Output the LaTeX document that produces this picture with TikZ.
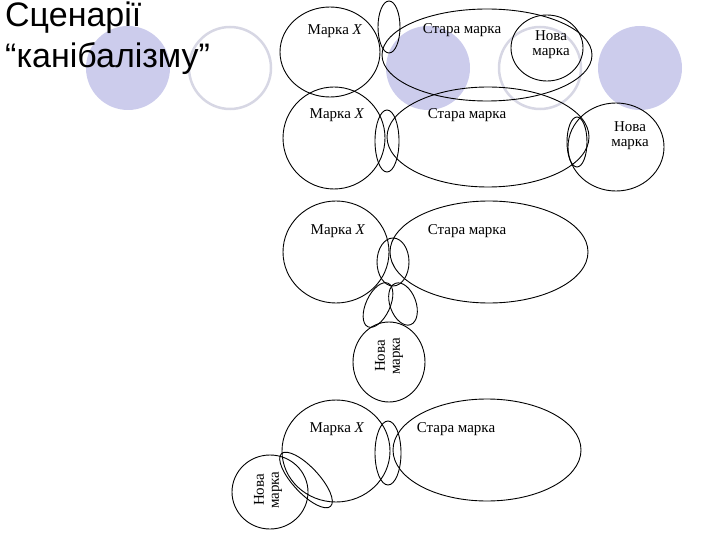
\documentclass[tikz,border=0pt]{standalone}
\usepackage{fontspec}
\setmainfont{Liberation Serif}
\newfontfamily\titlefont{Liberation Sans}
\begin{document}
\begin{tikzpicture}[x=1pt,y=-1pt,
  deco/.style={fill=lav,draw=none},
  ring/.style={draw=ringc,line width=2.5pt},
  ov/.style={draw=black,line width=0.9pt},
  lab/.style={font=\fontsize{15}{15}\selectfont,inner sep=0pt,align=center}]
\definecolor{lav}{RGB}{204,204,236}
\definecolor{ringc}{RGB}{215,215,228}
\useasboundingbox (0,0) rectangle (720,540);
% decorative circles
\fill[lav] (128,68) circle (42);
\draw[ring] (230,68) circle (41);
\fill[lav] (428,68) circle (42);
\draw[ring] (540,68) circle (41);
\fill[lav] (640,68) circle (42);
\node[font=\titlefont\fontsize{34}{41}\selectfont,anchor=north west,align=left,inner sep=0pt] (title) at (5,2) {Сценарії\\“канібалізму”};
% diagram 1
\draw[ov] (330,52) ellipse [x radius=50,y radius=45];
\draw[ov] (487,55) ellipse [x radius=105,y radius=46];
\draw[ov] (389,27) ellipse [x radius=11,y radius=26];
\draw[ov] (547,48) ellipse [x radius=36,y radius=33];
\node[lab] (a1) at (335,31) {Марка \textit{X}};
\node[lab] (b1) at (462,30) {Стара марка};
\node[lab] (c1) at (551,45) {Нова\\марка};
% diagram 2
\draw[ov] (334,138) ellipse [x radius=51,y radius=51];
\draw[ov] (488,137) ellipse [x radius=101,y radius=50];
\draw[ov] (616,147) ellipse [x radius=48,y radius=44];
\draw[ov] (387,141) ellipse [x radius=12,y radius=31];
\draw[ov] (577,142) ellipse [x radius=10,y radius=25];
\node[lab] (a2) at (337,115) {Марка \textit{X}};
\node[lab] (b2) at (467,115) {Стара марка};
\node[lab] (c2) at (630,136) {Нова\\марка};
% diagram 3
\draw[ov] (336,252) ellipse [x radius=53,y radius=51];
\draw[ov] (489,252) ellipse [x radius=99,y radius=51];
\draw[ov] (389,362) ellipse [x radius=36,y radius=40];
\draw[ov] (393,262) ellipse [x radius=16,y radius=24];
\draw[ov] (378,305) ellipse [x radius=12,y radius=24,rotate=-25];
\draw[ov] (403,304) ellipse [x radius=13,y radius=22,rotate=20];
\node[lab] (a3) at (338,231) {Марка \textit{X}};
\node[lab] (b3) at (467,231) {Стара марка};
\node[lab,rotate=90] (c3) at (389,356) {Нова\\марка};
% diagram 4
\draw[ov] (336,451) ellipse [x radius=54,y radius=51];
\draw[ov] (487,450) ellipse [x radius=94,y radius=51];
\draw[ov] (388,453) ellipse [x radius=13,y radius=32];
\draw[ov] (270,492) ellipse [x radius=38,y radius=37];
\draw[ov] (306,480) ellipse [x radius=36,y radius=13,rotate=-47];
\node[lab] (a4) at (337,429) {Марка \textit{X}};
\node[lab] (b4) at (456,429) {Стара марка};
\node[lab,rotate=90] (c4) at (268,490) {Нова\\марка};
\end{tikzpicture}
\end{document}
